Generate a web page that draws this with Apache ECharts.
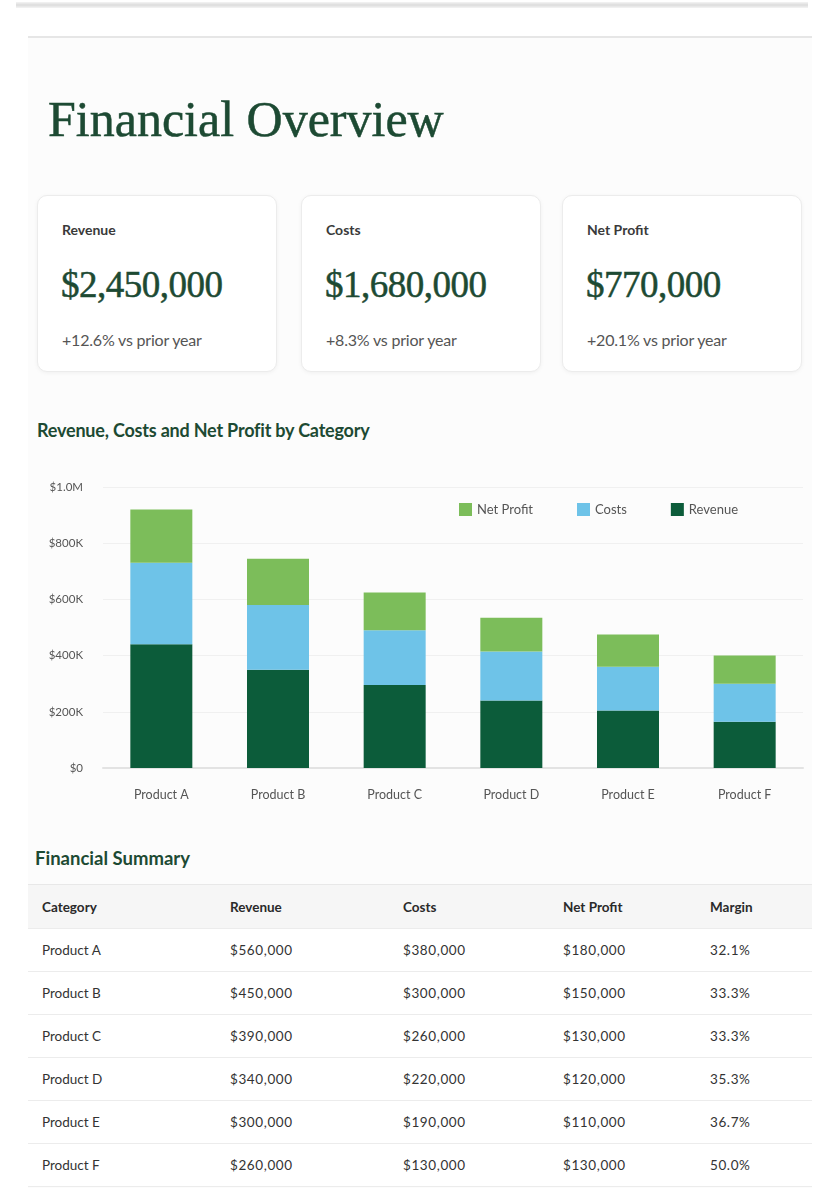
<!DOCTYPE html>
<html>
<head>
<meta charset="utf-8">
<script src="https://cdn.jsdelivr.net/npm/echarts@6/dist/echarts.min.js"></script>
<style>
  html, body { margin: 0; padding: 0; background: #fff; }
  body { width: 840px; height: 1188px; position: relative; overflow: hidden; font-family: Lato, "Noto Sans", sans-serif; color: #333; }
  .topbar { position: absolute; left: 16px; right: 32px; top: 2px; height: 6px; background: linear-gradient(#f4f4f4, #dcdcdc, #f4f4f4); }
  .page { position: absolute; left: 28px; top: 36px; width: 784px; height: 1160px; background: #fcfcfc; border-top: 2px solid #e6e6e6; }
  h1 { position: absolute; left: 48px; top: 90px; margin: 0; font-family: "Liberation Serif", "DejaVu Serif", serif; font-weight: normal; font-size: 50px; color: #1d4a33; -webkit-text-stroke: 0.5px #1d4a33; }
  .card { position: absolute; top: 195px; width: 240px; height: 177px; background: #fff; border: 1px solid #ececec; border-radius: 10px; box-shadow: 0 1px 4px rgba(0,0,0,0.05); box-sizing: border-box; }
  .card .lbl { position: absolute; left: 24px; top: 25px; font-size: 14px; font-weight: bold; color: #3a3a3a; }
  .card .val { position: absolute; left: 23px; top: 67px; font-family: "Liberation Serif", serif; font-size: 37px; color: #1d4a33; -webkit-text-stroke: 0.5px #1d4a33; letter-spacing: -0.5px; }
  .card .sub { position: absolute; left: 24px; top: 134px; font-size: 16px; color: #555; letter-spacing: -0.2px; }
  .sec { position: absolute; margin: 0; font-weight: bold; color: #1d4a33; }
  #chart { position: absolute; left: 28px; top: 470px; width: 784px; height: 340px; }
  table { position: absolute; left: 28px; top: 884px; width: 784px; table-layout: fixed; border-collapse: collapse; font-size: 13.5px; background: #fff; }
  th, td { text-align: left; height: 42px; padding: 0 0 0 14px; border-bottom: 1px solid #ececec; }
  th { background: #f6f6f6; font-weight: bold; color: #2a2a2a; height: 43px; border-top: 1px solid #e8e8e8; }
  td { color: #333; }
  td.num { letter-spacing: 0.6px; }
</style>
</head>
<body>
<div class="topbar"></div>
<div class="page"></div>
<h1>Financial Overview</h1>
<div id="cards"></div>
<div class="sec" style="left:37px;top:419px;font-size:18px;letter-spacing:-0.2px;">Revenue, Costs and Net Profit by Category</div>
<div id="chart"></div>
<div class="sec" style="left:35px;top:847px;font-size:18.5px;">Financial Summary</div>
<table id="tbl"></table>
<script>
// 卡片数据
var cardLabels = ['Revenue', 'Costs', 'Net Profit'];
var cardValues = ['$2,450,000', '$1,680,000', '$770,000'];
var cardChanges = ['+12.6% vs prior year', '+8.3% vs prior year', '+20.1% vs prior year'];
var cardLefts = [37, 301, 562];

// 图表数据 (从图上读的, 单位: 美元)
var categories = ['Product A', 'Product B', 'Product C', 'Product D', 'Product E', 'Product F'];
var revenueVals = [440000, 350000, 295000, 240000, 205000, 165000];
var costVals = [290000, 230000, 195000, 175000, 155000, 135000];
var profitVals = [190000, 165000, 135000, 120000, 115000, 100000];

// 表格数据
var tableHead = ['Category', 'Revenue', 'Costs', 'Net Profit', 'Margin'];
var tblRevenue = ['$560,000', '$450,000', '$390,000', '$340,000', '$300,000', '$260,000'];
var tblCosts = ['$380,000', '$300,000', '$260,000', '$220,000', '$190,000', '$130,000'];
var tblProfit = ['$180,000', '$150,000', '$130,000', '$120,000', '$110,000', '$130,000'];
var tblMargin = ['32.1%', '33.3%', '33.3%', '35.3%', '36.7%', '50.0%'];
var colWidths = [188, 173, 160, 147, 116];

var colorArr = ['#0c5c3a', '#6ec3e8', '#7cbd5a'];

// 卡片
var cardsHtml = '';
for (var i = 0; i < cardLabels.length; i++) {
    cardsHtml += '<div class="card" style="left:' + cardLefts[i] + 'px">' +
        '<div class="lbl">' + cardLabels[i] + '</div>' +
        '<div class="val">' + cardValues[i] + '</div>' +
        '<div class="sub">' + cardChanges[i] + '</div></div>';
}
document.getElementById('cards').innerHTML = cardsHtml;

// 表格
var rows = '<colgroup>';
colWidths.forEach(function (w) { rows += '<col style="width:' + w + 'px">'; });
rows += '</colgroup><tr>';
tableHead.forEach(function (h) { rows += '<th>' + h + '</th>'; });
rows += '</tr>';
for (var r = 0; r < categories.length; r++) {
    rows += '<tr><td>' + categories[r] + '</td><td class="num">' + tblRevenue[r] + '</td><td class="num">' + tblCosts[r] +
        '</td><td class="num">' + tblProfit[r] + '</td><td class="num">' + tblMargin[r] + '</td></tr>';
}
document.getElementById('tbl').innerHTML = rows;

// 堆叠柱状图
var barChart = echarts.init(document.getElementById('chart'));
function fmtMoney(v) {
    if (v === 0) return '$0';
    if (v >= 1000000) return '$' + (v / 1000000).toFixed(1) + 'M';
    return '$' + (v / 1000) + 'K';
}
var option = {
    animation: false,
    textStyle: { fontFamily: 'Lato' },
    grid: { left: 75, right: 9, top: 17, bottom: 42 },
    legend: {
        data: ['Net Profit', 'Costs', 'Revenue'],
        left: 426,
        top: 28,
        itemWidth: 13,
        itemHeight: 13,
        itemGap: 44,
        icon: 'rect',
        textStyle: { color: '#555', fontSize: 13 }
    },
    xAxis: {
        type: 'category',
        data: categories,
        axisTick: { show: false },
        axisLine: { lineStyle: { color: '#e3e3e3', width: 2 } },
        axisLabel: { color: '#555', fontSize: 12.5, margin: 20 }
    },
    yAxis: {
        type: 'value',
        min: 0,
        max: 1000000,
        interval: 200000,
        axisLabel: { color: '#555', fontSize: 11.5, margin: 20, formatter: fmtMoney },
        splitLine: { lineStyle: { color: '#f0f0f0' } }
    },
    series: [{
        name: 'Revenue',
        type: 'bar',
        stack: 'total',
        barWidth: 62,
        itemStyle: { color: colorArr[0] },
        data: revenueVals
    }, {
        name: 'Costs',
        type: 'bar',
        stack: 'total',
        itemStyle: { color: colorArr[1] },
        data: costVals
    }, {
        name: 'Net Profit',
        type: 'bar',
        stack: 'total',
        itemStyle: { color: colorArr[2] },
        data: profitVals
    }]
};
barChart.setOption(option);
</script>
</body>
</html>
